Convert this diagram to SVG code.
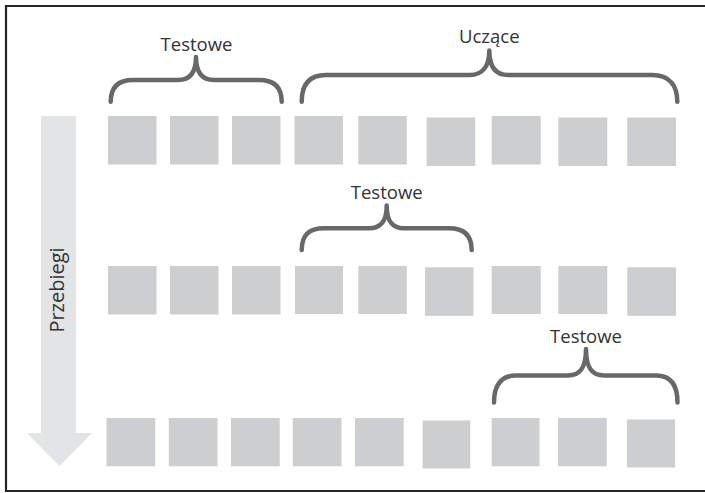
<svg xmlns="http://www.w3.org/2000/svg" width="705" height="493" viewBox="0 0 705 493">
  <style>
    .blk { fill: #cdcecf; }
    .brace { fill: none; stroke: #67686a; stroke-width: 4.5; stroke-linecap: round; stroke-linejoin: round; }
    .lbl { font-family: "Open Sans", "Liberation Sans", sans-serif; font-size: 18.5px; fill: #333333; text-anchor: middle; }
    .frame { stroke: #262626; stroke-width: 2.2; fill: none; }
  </style>

  <rect width="705" height="493" fill="#ffffff"/>

  <!-- frame: top, left, bottom rules -->
  <g id="frame">
    <line class="frame" x1="5" y1="6" x2="705" y2="6"/>
    <line class="frame" x1="6" y1="5" x2="6" y2="492"/>
    <line class="frame" x1="5" y1="491" x2="705" y2="491"/>
  </g>

  <!-- run direction arrow -->
  <g id="runs-arrow">
    <polygon points="41,116 76,116 76,433 92,433 59.5,466 27,433 41,433" fill="#e3e4e5"/>
    <text class="lbl" style="font-size:20px" transform="translate(64,290) rotate(-90)">Przebiegi</text>
  </g>

  <!-- run 1 -->
  <g id="run1">
    <rect class="blk" x="108" y="116" width="48.5" height="48.5"/>
    <rect class="blk" x="170" y="116" width="48.5" height="48.5"/>
    <rect class="blk" x="232" y="116" width="48.5" height="48.5"/>
    <rect class="blk" x="294.5" y="116" width="48.5" height="48.5"/>
    <rect class="blk" x="358.3" y="116" width="48.5" height="48.5"/>
    <rect class="blk" x="426.7" y="117.5" width="48.5" height="48.5"/>
    <rect class="blk" x="491.7" y="116" width="49" height="48.5"/>
    <rect class="blk" x="558.3" y="117.5" width="49" height="48.5"/>
    <rect class="blk" x="627.3" y="117.5" width="48.7" height="48.5"/>
  </g>
  <g id="run1-test">
    <path class="brace" d="M110.7,101.7 C110.7,88 117,80 133,80 L178,80 C190,80 196,72 196,57 C196,72 202,80 214,80 L259,80 C275,80 281.7,88 281.7,101.7"/>
    <text class="lbl" x="196.5" y="50.5">Testowe</text>
  </g>
  <g id="run1-train">
    <path class="brace" d="M301.7,101.7 C301.7,86 308,75 326,75 L470,75 C482,75 489.3,67 489.3,50.5 C489.3,67 496,75 508,75 L652,75 C670,75 677.3,86 677.3,101.7"/>
    <text class="lbl" x="489.3" y="42.5">Uczące</text>
  </g>

  <!-- run 2 -->
  <g id="run2">
    <rect class="blk" x="108" y="266" width="48.5" height="48.5"/>
    <rect class="blk" x="170" y="266" width="48.5" height="48.5"/>
    <rect class="blk" x="232" y="266" width="48.5" height="48.5"/>
    <rect class="blk" x="295" y="266" width="48" height="48"/>
    <rect class="blk" x="358.3" y="266" width="48.5" height="48"/>
    <rect class="blk" x="425" y="267.3" width="48.5" height="48.5"/>
    <rect class="blk" x="491.7" y="266" width="49" height="48"/>
    <rect class="blk" x="558.3" y="266" width="49" height="48"/>
    <rect class="blk" x="627.3" y="267.3" width="48.7" height="48.5"/>
  </g>
  <g id="run2-test">
    <path class="brace" d="M301.7,250 C301.7,236 308,228.3 324,228.3 L369,228.3 C381,228.3 386.7,221 386.7,205.5 C386.7,221 392,228.3 404,228.3 L449,228.3 C465,228.3 471.7,236 471.7,250"/>
    <text class="lbl" x="386.7" y="199.3">Testowe</text>
  </g>

  <!-- run 3 -->
  <g id="run3">
    <rect class="blk" x="106.5" y="418" width="48.7" height="48.3"/>
    <rect class="blk" x="168.8" y="418" width="48.7" height="48.3"/>
    <rect class="blk" x="231" y="418" width="48.7" height="48.3"/>
    <rect class="blk" x="292.8" y="418" width="48.7" height="48.3"/>
    <rect class="blk" x="355" y="418" width="48.7" height="48.3"/>
    <rect class="blk" x="422.7" y="420.5" width="47.5" height="48"/>
    <rect class="blk" x="491.7" y="418" width="47.8" height="48.3"/>
    <rect class="blk" x="558" y="418" width="48.7" height="48.3"/>
    <rect class="blk" x="627" y="419.5" width="48" height="48"/>
  </g>
  <g id="run3-test">
    <path class="brace" d="M494,402.5 C494,387 500,375.5 516,375.5 L568,375.5 C580,375.5 586,368 586,349 C586,368 592,375.5 604,375.5 L656,375.5 C672,375.5 677.5,387 677.5,402.5"/>
    <text class="lbl" x="586" y="342.5">Testowe</text>
  </g>
</svg>
